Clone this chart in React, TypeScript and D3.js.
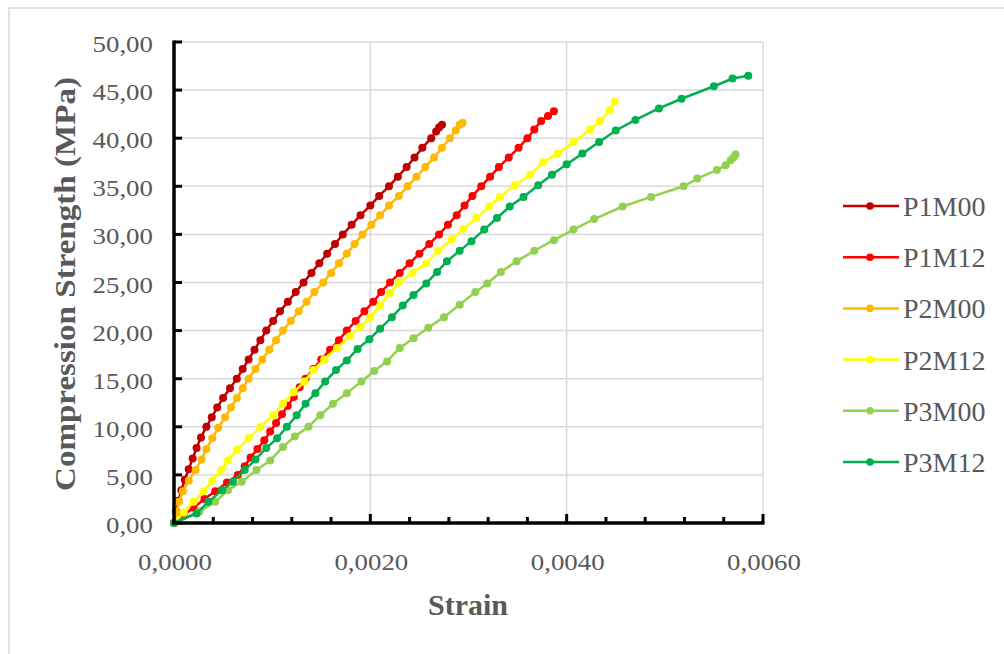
import React from 'react';
import * as d3 from 'd3';

// [strain, stress (MPa)]
const p1m00: [number, number][] = [
  [0, 0], [0.00002, 1.2], [0.000045, 2.3], [0.000075, 3.4], [0.00011, 4.5], [0.00015, 5.6],
  [0.00019, 6.7], [0.00023, 7.8], [0.000275, 8.9], [0.00033, 10.0], [0.000385, 11.0], [0.00044, 12.0],
  [0.0005, 13.0], [0.00057, 14.0], [0.00064, 15.0], [0.0007, 16.0], [0.00076, 17.0], [0.00082, 18.0],
  [0.00088, 19.0], [0.00094, 20.0], [0.00101, 21.0], [0.00108, 22.0], [0.00116, 23.0], [0.00124, 24.0],
  [0.00132, 25.0], [0.0014, 26.0], [0.00148, 27.0], [0.00156, 28.0], [0.00164, 29.0], [0.00172, 30.0],
  [0.00181, 31.0], [0.0019, 32.0], [0.002, 33.0], [0.00209, 34.0], [0.00219, 35.0], [0.00228, 36.0],
  [0.00237, 37.0], [0.00245, 38.0], [0.00253, 39.0], [0.00262, 40.0], [0.00267, 40.7], [0.0027, 41.1],
  [0.00273, 41.4],
];

const p1m12: [number, number][] = [
  [0, 0], [0.0001, 0.8], [0.0002, 1.6], [0.00031, 2.5], [0.00042, 3.3], [0.00054, 4.2], [0.00065, 5.0],
  [0.00072, 5.9], [0.00078, 6.8], [0.00085, 7.7], [0.00092, 8.6], [0.00098, 9.5], [0.00104, 10.4],
  [0.0011, 11.3], [0.00116, 12.2], [0.00122, 13.1], [0.00128, 14.1], [0.00134, 15.0], [0.00142, 16.0],
  [0.0015, 17.0], [0.00159, 18.0], [0.00168, 19.0], [0.00176, 20.0], [0.00185, 21.0], [0.00194, 22.0],
  [0.00203, 23.0], [0.00211, 24.0], [0.0022, 25.0], [0.0023, 26.0], [0.0024, 27.0], [0.0025, 28.0],
  [0.0026, 29.0], [0.0027, 30.0], [0.00279, 31.0], [0.00288, 32.0], [0.00296, 33.0], [0.00304, 34.0],
  [0.00313, 35.0], [0.00322, 36.0], [0.00331, 37.0], [0.00341, 38.0], [0.00351, 39.0], [0.0036, 40.0],
  [0.00367, 40.9], [0.00374, 41.8], [0.00381, 42.3], [0.00387, 42.8],
];

const p2m00: [number, number][] = [
  [0, 0], [0.000025, 1.1], [0.00005, 2.2], [0.00009, 3.3], [0.00015, 4.4], [0.00022, 5.5], [0.00028, 6.6],
  [0.00033, 7.7], [0.00039, 8.8], [0.00045, 9.9], [0.00052, 11.0], [0.00058, 12.0], [0.00064, 13.0],
  [0.0007, 14.0], [0.00076, 15.0], [0.00083, 16.0], [0.0009, 17.0], [0.00097, 18.0], [0.00104, 19.0],
  [0.00111, 20.0], [0.00119, 21.0], [0.00127, 22.0], [0.00135, 23.0], [0.00143, 24.0], [0.00152, 25.0],
  [0.0016, 26.0], [0.00168, 27.0], [0.00176, 28.0], [0.00184, 29.0], [0.00192, 30.0], [0.00201, 31.0],
  [0.0021, 32.0], [0.00219, 33.0], [0.00229, 34.0], [0.00238, 35.0], [0.00247, 36.0], [0.00256, 37.0],
  [0.00265, 38.0], [0.00273, 39.0], [0.00281, 40.0], [0.00287, 40.8], [0.00291, 41.4], [0.00294, 41.6],
];

const p2m12: [number, number][] = [
  [0, 0], [0.0001, 1.1], [0.0002, 2.2], [0.0003, 3.3], [0.00039, 4.4], [0.00048, 5.5], [0.00055, 6.5],
  [0.00064, 7.6], [0.00076, 8.8], [0.00088, 10.0], [0.00101, 11.2], [0.00111, 12.4], [0.00122, 13.6],
  [0.00133, 14.7], [0.00142, 15.9], [0.00153, 17.0], [0.00166, 18.2], [0.00179, 19.4], [0.0019, 20.4],
  [0.002, 21.4], [0.0021, 22.6], [0.0022, 23.9], [0.00229, 25.0], [0.00243, 26.0], [0.00257, 27.0],
  [0.00269, 28.3], [0.00283, 29.5], [0.00295, 30.6], [0.00308, 31.7], [0.00321, 32.9], [0.00332, 33.9],
  [0.00347, 35.1], [0.00363, 36.2], [0.00376, 37.5], [0.00391, 38.4], [0.00407, 39.6], [0.00424, 40.9],
  [0.00434, 41.8], [0.00444, 42.9], [0.00449, 43.8],
];

const p3m00: [number, number][] = [
  [0, 0], [0.00026, 1.2], [0.00042, 2.2], [0.00055, 3.4], [0.00069, 4.3], [0.00084, 5.5], [0.00098, 6.5],
  [0.00111, 7.9], [0.00123, 9.0], [0.00137, 10.0], [0.00149, 11.2], [0.00162, 12.4], [0.00176, 13.5],
  [0.00191, 14.7], [0.00204, 15.8], [0.00217, 16.8], [0.0023, 18.2], [0.00244, 19.2], [0.00259, 20.3],
  [0.00275, 21.4], [0.00291, 22.7], [0.00307, 24.0], [0.00319, 24.9], [0.00333, 26.1], [0.00349, 27.2],
  [0.00367, 28.3], [0.00387, 29.4], [0.00407, 30.5], [0.00428, 31.6], [0.00457, 32.9], [0.00486, 33.9],
  [0.00519, 35.0], [0.00533, 35.8], [0.00553, 36.7], [0.00562, 37.2], [0.00567, 37.7], [0.0057, 38.0],
  [0.00572, 38.3],
];

const p3m12: [number, number][] = [
  [0, 0], [0.00023, 1.0], [0.00035, 2.2], [0.00049, 3.4], [0.0006, 4.3], [0.00072, 5.5], [0.00083, 6.6],
  [0.00094, 7.8], [0.00105, 8.8], [0.00115, 10.0], [0.00125, 11.2], [0.00134, 12.4], [0.00144, 13.5],
  [0.00154, 14.7], [0.00165, 15.9], [0.00176, 16.9], [0.00187, 18.1], [0.00199, 19.1], [0.0021, 20.2],
  [0.00222, 21.4], [0.00233, 22.6], [0.00244, 23.7], [0.00257, 24.9], [0.00268, 26.1], [0.00278, 27.2],
  [0.00291, 28.3], [0.00303, 29.3], [0.00316, 30.5], [0.00329, 31.7], [0.00342, 32.9], [0.00356, 33.9],
  [0.00371, 35.1], [0.00385, 36.2], [0.004, 37.3], [0.00416, 38.4], [0.00433, 39.6], [0.0045, 40.8],
  [0.0047, 41.9], [0.00494, 43.1], [0.00517, 44.1], [0.0055, 45.4], [0.00569, 46.2], [0.00585, 46.5],
];

const seriesNames = ['P1M00', 'P1M12', 'P2M00', 'P2M12', 'P3M00', 'P3M12'];
const seriesColors = ['#C00000', '#FF0000', '#FFB900', '#FFFF00', '#92D050', '#00B050'];
const seriesData = [p1m00, p1m12, p2m00, p2m12, p3m00, p3m12];

const xTicks = [0, 0.002, 0.004, 0.006];
const yTicks = [0, 5, 10, 15, 20, 25, 30, 35, 40, 45, 50];

const font = "'Liberation Serif', 'Times New Roman', serif";
const grey = '#595959';

export default function App() {
  const x = d3.scaleLinear().domain([0, 0.006]).range([174, 763]);
  const y = d3.scaleLinear().domain([0, 50]).range([523, 42]);
  const line = d3.line<[number, number]>().x(d => x(d[0])).y(d => y(d[1]));

  const fmtX = (v: number) => d3.format('.4f')(v).replace('.', ',');
  const fmtY = (v: number) => d3.format('.2f')(v).replace('.', ',');

  // minor ticks every 0.0004 on the strain axis
  const minorX = d3.range(1, 16).map(i => i * 0.0004);

  return (
    <svg width={1004} height={654} style={{ position: 'absolute', left: 0, top: 0, background: '#fff' }}>
      <rect x={9} y={8} width={1010} height={660} fill="#fff" stroke="#D9D9D9" strokeWidth={1.5} />

      {/* grid */}
      {yTicks.filter(t => t > 0).map(t => (
        <line key={'gy' + t} x1={x(0)} x2={x(0.006)} y1={y(t)} y2={y(t)} stroke="#D9D9D9" strokeWidth={1.5} />
      ))}
      {xTicks.filter(t => t > 0).map(t => (
        <line key={'gx' + t} x1={x(t)} x2={x(t)} y1={y(0)} y2={y(50)} stroke="#D9D9D9" strokeWidth={1.5} />
      ))}

      {/* series */}
      {seriesData.map((data, i) => (
        <g key={seriesNames[i]}>
          <path d={line(data) || ''} fill="none" stroke={seriesColors[i]} strokeWidth={2.5} />
          {data.map((d, j) => (
            <circle key={j} cx={x(d[0])} cy={y(d[1])} r={4} fill={seriesColors[i]} />
          ))}
        </g>
      ))}

      {/* axes */}
      <line x1={x(0)} x2={x(0)} y1={y(50) - 1.5} y2={y(0) + 1.5} stroke="#000" strokeWidth={3.5} />
      <line x1={x(0) - 1.5} x2={x(0.006) + 1.5} y1={y(0)} y2={y(0)} stroke="#000" strokeWidth={3.5} />
      {yTicks.map(t => (
        <line key={'ty' + t} x1={x(0)} x2={x(0) + 8} y1={y(t)} y2={y(t)} stroke="#000" strokeWidth={3} />
      ))}
      {minorX.map(t => (
        <line key={'tx' + t} x1={x(t)} x2={x(t)} y1={y(0)} y2={y(0) - (xTicks.some(v => Math.abs(v - t) < 1e-9) ? 9 : 6)} stroke="#000" strokeWidth={3} />
      ))}

      {/* tick labels */}
      {yTicks.map(t => (
        <text key={'ly' + t} transform={`translate(153,${y(t) + 10}) scale(1.12,1)`} textAnchor="end"
          fontFamily={font} fontSize={24} fill={grey}>{fmtY(t)}</text>
      ))}
      {xTicks.map(t => (
        <text key={'lx' + t} transform={`translate(${x(t) + 1},570) scale(1.12,1)`} textAnchor="middle"
          fontFamily={font} fontSize={24} fill={grey}>{fmtX(t)}</text>
      ))}

      {/* axis titles */}
      <text x={468} y={615} textAnchor="middle" fontFamily={font} fontSize={30} fontWeight="bold" fill={grey}>Strain</text>
      <text transform="translate(75,284) rotate(-90)" textAnchor="middle" fontFamily={font} fontSize={29}
        fontWeight="bold" fill={grey} textLength={414} lengthAdjust="spacingAndGlyphs">Compression Strength (MPa)</text>

      {/* legend */}
      {seriesNames.map((name, i) => {
        const cy = 206 + i * 51.2;
        return (
          <g key={'lg' + name}>
            <line x1={843} x2={899} y1={cy} y2={cy} stroke={seriesColors[i]} strokeWidth={2.5} />
            <circle cx={870} cy={cy} r={3.8} fill={seriesColors[i]} />
            <text x={903} y={cy + 10} fontFamily={font} fontSize={28} fill={grey}>{name}</text>
          </g>
        );
      })}
    </svg>
  );
}
